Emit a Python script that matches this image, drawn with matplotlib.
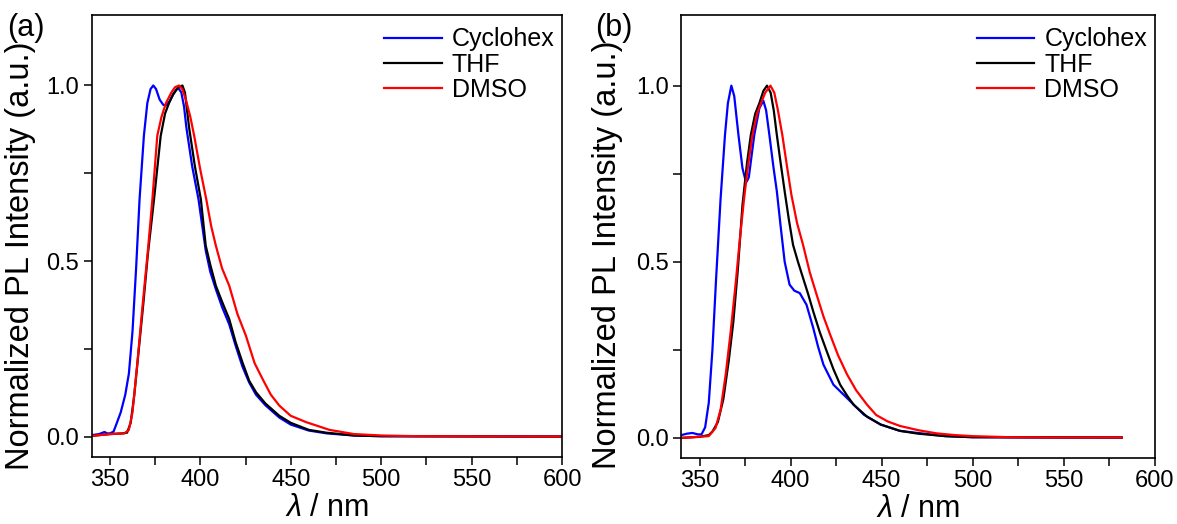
import matplotlib
matplotlib.use('Agg')
import matplotlib.pyplot as plt
from matplotlib.ticker import MultipleLocator, FormatStrFormatter

plt.rc('font', family=['Liberation Sans', 'DejaVu Sans'])
plt.rc('mathtext', fontset='custom', it='Liberation Sans:italic', rm='Liberation Sans')

# ---- panel (a) ----
a_cyc_x = [340, 344, 347, 348.5, 350, 352, 353.5, 356, 358.5, 360.5, 362.5, 364.5, 366.4, 368.8,
           370.7, 372.5, 374, 375.5, 377.5, 379.5, 381, 383, 385, 387, 388.2, 389.5, 391, 392.3,
           395.5, 399, 403, 405.5, 408.6, 412, 416, 419.5, 423.3, 427, 430.8, 436, 443.7, 450,
           460, 470, 485, 500, 600]
a_cyc_y = [0.005, 0.008, 0.014, 0.01, 0.01, 0.015, 0.035, 0.07, 0.12, 0.18, 0.30, 0.48, 0.676,
           0.857, 0.95, 0.99, 1.0, 0.99, 0.96, 0.945, 0.943, 0.955, 0.975, 0.99, 0.99, 0.98, 0.94,
           0.88, 0.77, 0.676, 0.53, 0.47, 0.42, 0.37, 0.32, 0.26, 0.20, 0.155, 0.12, 0.09, 0.055,
           0.035, 0.018, 0.01, 0.004, 0.002, 0.001]

a_thf_x = [340, 350, 357, 359.5, 361.5, 363.5, 366, 368.5, 371, 374.4, 378.1, 380.5, 382.7, 385,
           387.5, 390.1, 391.5, 393.8, 397, 400.3, 403, 405.5, 408.6, 412, 416, 419.5, 423.3, 427,
           430.8, 436, 443.7, 450, 460, 469.6, 485, 500, 600]
a_thf_y = [0.003, 0.008, 0.01, 0.012, 0.04, 0.12, 0.25, 0.38, 0.52, 0.676, 0.857, 0.92, 0.95,
           0.975, 0.993, 1.0, 0.98, 0.88, 0.77, 0.676, 0.544, 0.49, 0.43, 0.385, 0.335, 0.27,
           0.212, 0.16, 0.127, 0.095, 0.06, 0.04, 0.02, 0.012, 0.004, 0.002, 0.001]

a_dmso_x = [340, 350, 358, 360.5, 362.5, 365, 368, 371, 373.5, 376.2, 378.5, 381, 384, 386, 388.2,
            390, 392, 394.5, 396.6, 400, 403.3, 406, 408.6, 412, 416, 420.5, 425.2, 430, 434.4,
            439, 443.7, 450, 458.5, 471.4, 485, 500, 520, 600]
a_dmso_y = [0.003, 0.008, 0.01, 0.02, 0.07, 0.2, 0.37, 0.53, 0.676, 0.857, 0.91, 0.95, 0.98,
            0.995, 1.0, 0.99, 0.96, 0.91, 0.857, 0.76, 0.676, 0.6, 0.544, 0.48, 0.43, 0.35, 0.288,
            0.21, 0.165, 0.12, 0.089, 0.06, 0.042, 0.02, 0.008, 0.004, 0.002, 0.001]

# ---- panel (b) ----
b_cyc_x = [340, 343, 346, 349, 351, 353, 355, 357, 359, 361.5, 363.9, 365.5, 367.4, 369, 371.3,
           373.5, 375, 375.9, 377, 378.5, 380, 382.8, 385, 386.5, 388.3, 390.5, 392.4, 394.5,
           396.7, 399.4, 402, 405, 408.7, 412.4, 415, 418, 423.5, 431, 440.2, 449.4, 460, 469.8,
           485, 500, 550, 582]
b_cyc_y = [0.008, 0.012, 0.014, 0.010, 0.010, 0.03, 0.10, 0.25, 0.45, 0.68, 0.86, 0.95, 1.0,
           0.97, 0.86, 0.766, 0.735, 0.728, 0.74, 0.80, 0.86, 0.936, 0.957, 0.93, 0.86, 0.77, 0.70,
           0.60, 0.50, 0.435, 0.418, 0.411, 0.378, 0.312, 0.26, 0.208, 0.151, 0.113, 0.066,
           0.038, 0.02, 0.014, 0.005, 0.002, 0.001, 0.001]

b_thf_x = [340, 350, 355, 357, 360, 363, 366, 368.5, 371, 373.5, 376, 378.1, 380.5, 382.8, 385,
           387, 389, 390.7, 392.4, 394.5, 396.7, 399, 401.3, 404, 406.8, 409.5, 412.4, 416,
           419.8, 423.5, 427.2, 431, 434.6, 442, 449.4, 460, 470, 485, 500, 582]
b_thf_y = [0.0, 0.003, 0.008, 0.018, 0.045, 0.11, 0.22, 0.33, 0.48, 0.66, 0.78, 0.86, 0.92,
           0.95, 0.985, 1.0, 0.98, 0.93, 0.86, 0.78, 0.70, 0.62, 0.548, 0.50, 0.454, 0.41, 0.359,
           0.30, 0.246, 0.195, 0.151, 0.12, 0.094, 0.06, 0.038, 0.02, 0.012, 0.005, 0.002, 0.001]

b_dmso_x = [340, 355, 358.7, 361.5, 364.3, 367, 369.8, 372, 374.4, 376.5, 379, 381.5, 383.7, 386,
            388.9, 391, 393, 395.4, 398, 400.4, 403.5, 406.8, 410.5, 414.3, 418, 421.7, 426, 431,
            436, 442, 447, 453.2, 460, 470, 480, 490, 500, 520, 550, 582]
b_dmso_y = [0.0, 0.005, 0.028, 0.08, 0.18, 0.30, 0.44, 0.56, 0.68, 0.77, 0.86, 0.92, 0.95, 0.98,
            1.0, 0.98, 0.93, 0.86, 0.77, 0.69, 0.61, 0.548, 0.47, 0.406, 0.345, 0.293, 0.235,
            0.18, 0.135, 0.094, 0.065, 0.047, 0.034, 0.022, 0.013, 0.008, 0.005, 0.002, 0.001,
            0.001]

labels = ['Cyclohex', 'THF', 'DMSO']
colors = ['#0000ff', 'black', '#ff0000']

fig = plt.figure(figsize=(11.77, 5.24), dpi=100)
ax1 = fig.add_axes([0.078, 0.128, 0.3995, 0.843])
ax2 = fig.add_axes([0.579, 0.126, 0.402, 0.845])

panels = [
    (ax1, [(a_cyc_x, a_cyc_y), (a_thf_x, a_thf_y), (a_dmso_x, a_dmso_y)], '(a)', 0.006,
     -0.151, 0.455),
    (ax2, [(b_cyc_x, b_cyc_y), (b_thf_x, b_thf_y), (b_dmso_x, b_dmso_y)], '(b)', 0.506,
     -0.157, 0.458),
]

for ax, series, tag, tag_x, ylx, yly in panels:
    for (x, y), lab, c in zip(series, labels, colors):
        ax.plot(x, y, color=c, lw=1.6, label=lab)
    ax.set_xlim(340, 600)
    ax.set_ylim(-0.057, 1.2)
    ax.xaxis.set_major_locator(MultipleLocator(50))
    ax.xaxis.set_minor_locator(MultipleLocator(25))
    ax.yaxis.set_major_locator(MultipleLocator(0.5))
    ax.yaxis.set_minor_locator(MultipleLocator(0.25))
    ax.yaxis.set_major_formatter(FormatStrFormatter('%.1f'))
    ax.tick_params(which='both', direction='out', length=6, width=1.1, labelsize=17, pad=3)
    ax.tick_params(top=False, right=False)
    for sp in ax.spines.values():
        sp.set_linewidth(1.2)
    ax.set_xlabel(r'$\mathit{\lambda}$ / nm', fontsize=22, va='center')
    ax.xaxis.set_label_coords(0.5, -0.116)
    ax.set_ylabel('Normalized PL Intensity (a.u.)', fontsize=23.5, va='center')
    ax.yaxis.set_label_coords(ylx, yly)
    ax.legend(loc='upper right', frameon=False, fontsize=18, handlelength=2.3,
              handletextpad=0.4, labelspacing=0.05, borderaxespad=0.0,
              bbox_to_anchor=(1.005, 0.995))
    fig.text(tag_x, 0.975, tag, fontsize=22, va='top', ha='left')

fig.savefig('out.png', dpi=100)
